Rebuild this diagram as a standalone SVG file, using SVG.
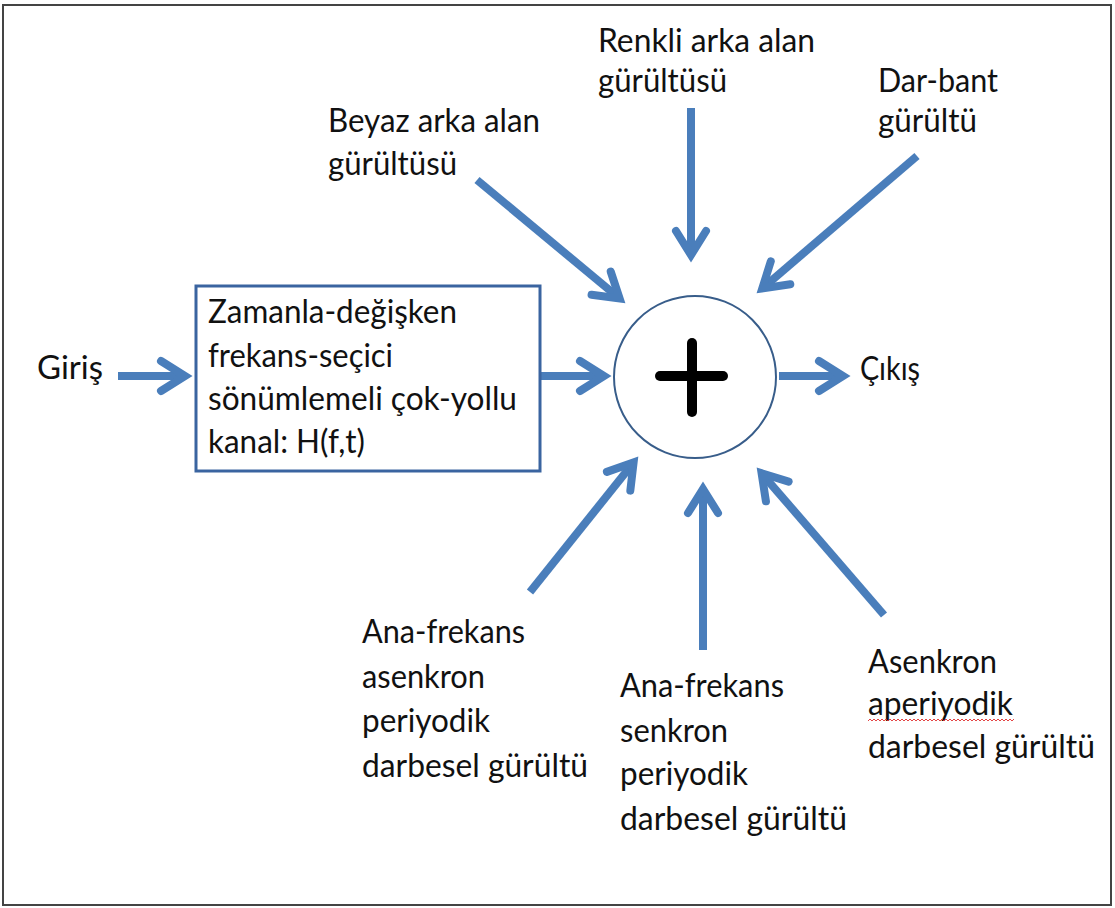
<svg xmlns="http://www.w3.org/2000/svg" width="1115" height="908" viewBox="0 0 1115 908">
<style>
  .t { font-family: Lato, "Liberation Sans", sans-serif; font-size: 32px; fill: #111111; }
  .arr { stroke: #4a7ebb; stroke-width: 8; fill: none; marker-end: url(#head); }
</style>
<defs>
  <marker id="head" markerUnits="userSpaceOnUse" orient="auto" refX="0" refY="0" markerWidth="60" markerHeight="60" viewBox="-40 -30 60 60" overflow="visible">
    <path d="M-24,-15 L0,0 L-24,15" fill="none" stroke="#4a7ebb" stroke-width="8" stroke-linejoin="miter" stroke-linecap="round"/>
  </marker>
  <pattern id="wave" patternUnits="userSpaceOnUse" x="868" y="718" width="4" height="4">
    <path d="M0,3 L2,1 L4,3" fill="none" stroke="#e03030" stroke-width="0.9"/>
  </pattern>
</defs>
<rect x="0" y="0" width="1115" height="908" fill="#ffffff"/>
<rect id="frame" x="3" y="5" width="1108" height="900" fill="none" stroke="#444" stroke-width="2"/>

<g id="connectors">
  <line class="arr" x1="118" y1="376" x2="185" y2="376"/>
  <line class="arr" x1="540" y1="376" x2="604" y2="376"/>
  <line class="arr" x1="779" y1="376" x2="843" y2="376"/>
  <line class="arr" x1="477" y1="180" x2="619.6" y2="298.5"/>
  <line class="arr" x1="691" y1="108" x2="691" y2="255"/>
  <line class="arr" x1="917" y1="156" x2="762.3" y2="288.4"/>
  <line class="arr" x1="530" y1="592" x2="633.6" y2="462.5"/>
  <line class="arr" x1="703" y1="650" x2="703" y2="489"/>
  <line class="arr" x1="884" y1="615" x2="761.6" y2="473.3"/>
</g>

<g id="channel">
  <rect x="196" y="286" width="344" height="185" fill="#fff" stroke="#3a64a0" stroke-width="3"/>
  <text class="t" x="208" y="323" textLength="249" lengthAdjust="spacingAndGlyphs">Zamanla-değişken</text>
  <text class="t" x="208" y="367" textLength="185" lengthAdjust="spacingAndGlyphs">frekans-seçici</text>
  <text class="t" x="208" y="410" textLength="309" lengthAdjust="spacingAndGlyphs">sönümlemeli çok-yollu</text>
  <text class="t" x="208" y="453" textLength="157" lengthAdjust="spacingAndGlyphs">kanal: H(f,t)</text>
</g>

<g id="sum">
  <circle cx="695" cy="377" r="81" fill="#fff" stroke="#385d8a" stroke-width="2"/>
  <line x1="692" y1="343" x2="692" y2="412" stroke="#000" stroke-width="10" stroke-linecap="round"/>
  <line x1="660" y1="376" x2="723" y2="376" stroke="#000" stroke-width="10" stroke-linecap="round"/>
</g>

<g id="giris">
  <text class="t" x="37" y="379" textLength="66" lengthAdjust="spacingAndGlyphs">Giriş</text>
</g>
<g id="cikis">
  <text class="t" x="860" y="380" textLength="60" lengthAdjust="spacingAndGlyphs">Çıkış</text>
</g>

<g id="beyaz">
  <text class="t" x="328" y="132" textLength="212" lengthAdjust="spacingAndGlyphs">Beyaz arka alan</text>
  <text class="t" x="328" y="175" textLength="129" lengthAdjust="spacingAndGlyphs">gürültüsü</text>
</g>
<g id="renkli">
  <text class="t" x="598" y="52" textLength="217" lengthAdjust="spacingAndGlyphs">Renkli arka alan</text>
  <text class="t" x="598" y="92" textLength="129" lengthAdjust="spacingAndGlyphs">gürültüsü</text>
</g>
<g id="darbant">
  <text class="t" x="878" y="92" textLength="120" lengthAdjust="spacingAndGlyphs">Dar-bant</text>
  <text class="t" x="878" y="132" textLength="99" lengthAdjust="spacingAndGlyphs">gürültü</text>
</g>

<g id="anafrekans-asenkron">
  <text class="t" x="362" y="643" textLength="163" lengthAdjust="spacingAndGlyphs">Ana-frekans</text>
  <text class="t" x="362" y="688" textLength="123" lengthAdjust="spacingAndGlyphs">asenkron</text>
  <text class="t" x="362" y="732" textLength="128" lengthAdjust="spacingAndGlyphs">periyodik</text>
  <text class="t" x="362" y="777" textLength="226" lengthAdjust="spacingAndGlyphs">darbesel gürültü</text>
</g>
<g id="anafrekans-senkron">
  <text class="t" x="620" y="697" textLength="164" lengthAdjust="spacingAndGlyphs">Ana-frekans</text>
  <text class="t" x="620" y="742" textLength="108" lengthAdjust="spacingAndGlyphs">senkron</text>
  <text class="t" x="620" y="785" textLength="128" lengthAdjust="spacingAndGlyphs">periyodik</text>
  <text class="t" x="620" y="830" textLength="227" lengthAdjust="spacingAndGlyphs">darbesel gürültü</text>
</g>
<g id="asenkron-aperiyodik">
  <text class="t" x="868" y="673" textLength="129" lengthAdjust="spacingAndGlyphs">Asenkron</text>
  <text class="t" x="868" y="715" textLength="145" lengthAdjust="spacingAndGlyphs">aperiyodik</text>
  <rect x="868" y="718" width="146" height="4" fill="url(#wave)"/>
  <text class="t" x="868" y="758" textLength="227" lengthAdjust="spacingAndGlyphs">darbesel gürültü</text>
</g>
</svg>
